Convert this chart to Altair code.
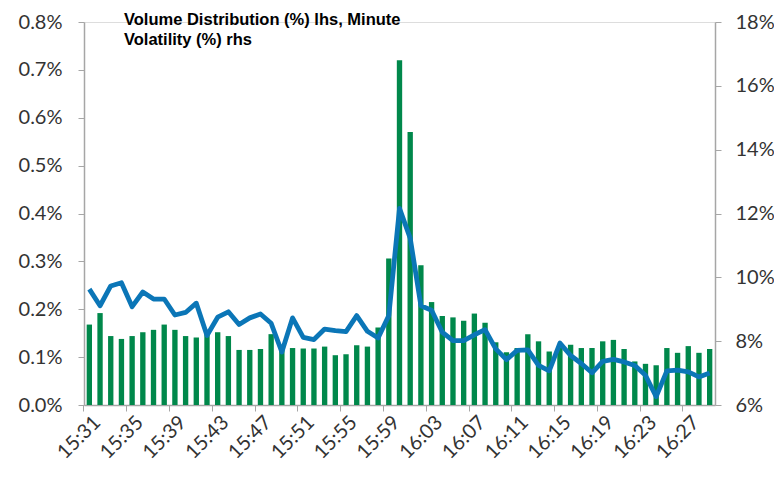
import altair as alt
import pandas as pd

times = ["15:31", "15:32", "15:33", "15:34", "15:35", "15:36", "15:37", "15:38", "15:39", "15:40",
         "15:41", "15:42", "15:43", "15:44", "15:45", "15:46", "15:47", "15:48", "15:49", "15:50",
         "15:51", "15:52", "15:53", "15:54", "15:55", "15:56", "15:57", "15:58", "15:59", "16:00",
         "16:01", "16:02", "16:03", "16:04", "16:05", "16:06", "16:07", "16:08", "16:09", "16:10",
         "16:11", "16:12", "16:13", "16:14", "16:15", "16:16", "16:17", "16:18", "16:19", "16:20",
         "16:21", "16:22", "16:23", "16:24", "16:25", "16:26", "16:27", "16:28", "16:29"]

volume_pct = [0.168, 0.192, 0.144, 0.138, 0.144, 0.152, 0.157, 0.168, 0.157, 0.144,
              0.141, 0.150, 0.152, 0.144, 0.115, 0.115, 0.117, 0.148, 0.120, 0.119,
              0.118, 0.118, 0.122, 0.104, 0.106, 0.125, 0.122, 0.162, 0.306, 0.720,
              0.570, 0.292, 0.215, 0.186, 0.183, 0.176, 0.191, 0.172, 0.131, 0.110,
              0.119, 0.148, 0.133, 0.112, 0.120, 0.126, 0.119, 0.119, 0.133, 0.136,
              0.117, 0.091, 0.086, 0.083, 0.119, 0.109, 0.123, 0.109, 0.117]

volatility_pct = [9.63, 9.11, 9.73, 9.83, 9.08, 9.54, 9.32, 9.32, 8.82, 8.90,
                  9.19, 8.18, 8.75, 8.92, 8.52, 8.73, 8.85, 8.56, 7.66, 8.73,
                  8.12, 8.05, 8.38, 8.33, 8.30, 8.80, 8.31, 8.10, 8.80, 12.16,
                  11.23, 9.11, 8.97, 8.28, 8.02, 8.02, 8.20, 8.36, 7.76, 7.42,
                  7.71, 7.73, 7.24, 7.07, 7.94, 7.55, 7.30, 7.01, 7.37, 7.43,
                  7.35, 7.24, 6.93, 6.26, 7.07, 7.09, 7.04, 6.88, 7.00]

tick_labels = ["15:31", "15:35", "15:39", "15:43", "15:47", "15:51", "15:55", "15:59",
               "16:03", "16:07", "16:11", "16:15", "16:19", "16:23", "16:27"]

left_ticks = [0.0, 0.1, 0.2, 0.3, 0.4, 0.5, 0.6, 0.7, 0.8]
right_ticks = [6, 8, 10, 12, 14, 16, 18]

title_lines = ["Volume Distribution (%) lhs, Minute", "Volatility (%) rhs"]

df = pd.DataFrame({"time": times, "volume": volume_pct, "volatility": volatility_pct})

FONT = "Lato"
AXIS_GRAY = "#a6a6a6"
LABEL_COLOR = "#333333"

x_enc = alt.X(
    "time:N",
    sort=times,
    scale=alt.Scale(paddingInner=0.5, paddingOuter=0.25),
    axis=alt.Axis(
        title=None,
        values=tick_labels,
        bandPosition=-0.5,
        labelAngle=-45,
        labelAlign="right",
        labelBaseline="middle",
        labelOffset=8,
        labelPadding=8,
        labelFont=FONT,
        labelFontSize=20,
        labelColor=LABEL_COLOR,
        tickSize=6,
        tickColor=AXIS_GRAY,
        domainColor=AXIS_GRAY,
        domainWidth=1.5,
        grid=False,
    ),
)

bars = alt.Chart(df).mark_bar(color="#00884b").encode(
    x=x_enc,
    y=alt.Y(
        "volume:Q",
        scale=alt.Scale(domain=[0, 0.8], nice=False),
        axis=alt.Axis(
            title=None,
            orient="left",
            values=left_ticks,
            labelExpr="format(datum.value, '.1f') + '%'",
            labelFont=FONT,
            labelFontSize=20,
            labelColor=LABEL_COLOR,
            labelPadding=16,
            tickSize=6,
            tickColor=AXIS_GRAY,
            domainColor=AXIS_GRAY,
            domainWidth=1.5,
            grid=False,
        ),
    ),
)

line = alt.Chart(df).mark_line(color="#0b76b7", strokeWidth=4.8, strokeJoin="round").encode(
    x=x_enc,
    y=alt.Y(
        "volatility:Q",
        scale=alt.Scale(domain=[6, 18], nice=False),
        axis=alt.Axis(
            title=None,
            orient="right",
            values=right_ticks,
            labelExpr="format(datum.value, 'd') + '%'",
            labelFont=FONT,
            labelFontSize=20,
            labelColor=LABEL_COLOR,
            labelPadding=14,
            tickSize=6,
            tickColor=AXIS_GRAY,
            domainColor=AXIS_GRAY,
            domainWidth=1.5,
            grid=False,
        ),
    ),
)

title = alt.Chart(alt.Data(values=[{}])).mark_text(
    align="left",
    baseline="top",
    font="Liberation Sans",
    fontSize=16.5,
    fontWeight="bold",
    lineHeight=20,
    color="#000000",
).encode(
    x=alt.value(40),
    y=alt.value(-10),
    text=alt.value(title_lines),
)

chart = (
    alt.layer(bars, line, title)
    .resolve_scale(y="independent")
    .properties(
        width=631,
        height=383,
        autosize=alt.AutoSizeParams(type="none"),
        padding={"left": 76, "top": 14, "right": 59, "bottom": 76},
    )
    .configure_view(stroke=None)
    .configure(background="white")
)

chart.save("out.html", embed_options={"renderer": "svg", "actions": False})
